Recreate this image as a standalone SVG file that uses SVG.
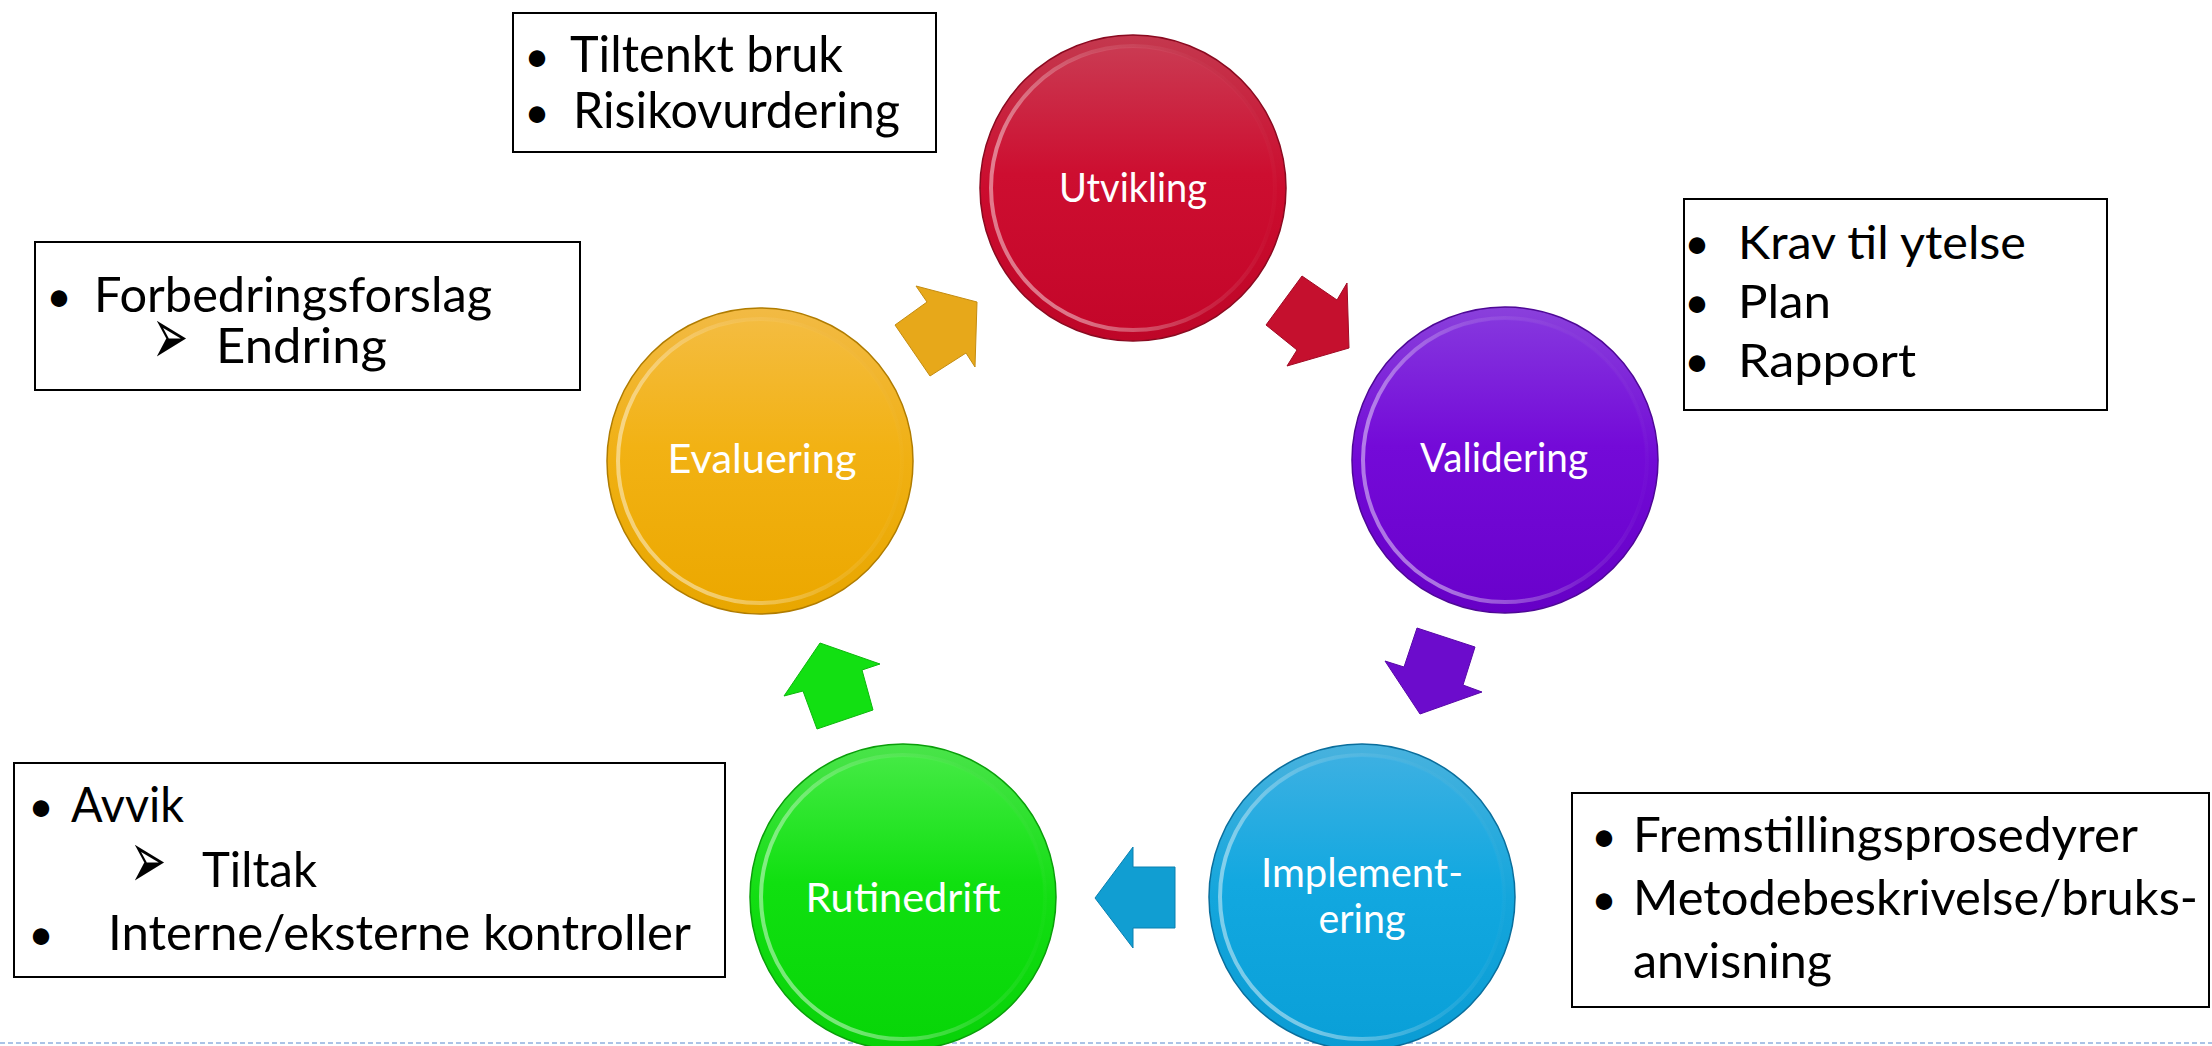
<svg xmlns="http://www.w3.org/2000/svg" width="2212" height="1046" viewBox="0 0 2212 1046">
<style>
.lbl{font-family:Lato,"Liberation Sans",sans-serif;font-size:40px;fill:#ffffff;text-anchor:middle}
.bx{fill:#ffffff;stroke:#000000;stroke-width:2}
.bt{font-family:Lato,"Liberation Sans",sans-serif;font-size:49px;fill:#000000}
.bul{font-family:Lato,"Liberation Sans",sans-serif;font-size:44px;fill:#000000;text-anchor:middle}
.arr{font-family:"DejaVu Sans",sans-serif;font-size:54px;fill:#000000}
.hl{fill:none;stroke:url(#hl);stroke-width:4}
</style>
<defs>
<linearGradient id="hl" x1="0" y1="0.3" x2="0.7" y2="0">
<stop offset="0" stop-color="#ffffff" stop-opacity="0.45"/>
<stop offset="0.6" stop-color="#ffffff" stop-opacity="0.12"/>
<stop offset="1" stop-color="#ffffff" stop-opacity="0.02"/>
</linearGradient>
<linearGradient id="gRed" x1="0" y1="0" x2="0" y2="1"><stop offset="0" stop-color="#c4384e"/><stop offset="0.5" stop-color="#cc0c2e"/><stop offset="1" stop-color="#be0628"/></linearGradient>
<linearGradient id="gRedIn" x1="0" y1="0" x2="0" y2="1"><stop offset="0" stop-color="#ca3a52"/><stop offset="0.45" stop-color="#cd0e30"/><stop offset="1" stop-color="#c4062a"/></linearGradient>
<linearGradient id="gPur" x1="0" y1="0" x2="0" y2="1"><stop offset="0" stop-color="#8a40dc"/><stop offset="0.5" stop-color="#720ad6"/><stop offset="1" stop-color="#6600c6"/></linearGradient>
<linearGradient id="gPurIn" x1="0" y1="0" x2="0" y2="1"><stop offset="0" stop-color="#8536de"/><stop offset="0.45" stop-color="#740ad8"/><stop offset="1" stop-color="#6a02cc"/></linearGradient>
<linearGradient id="gBlu" x1="0" y1="0" x2="0" y2="1"><stop offset="0" stop-color="#48b2de"/><stop offset="0.5" stop-color="#14a6dc"/><stop offset="1" stop-color="#0a9cd4"/></linearGradient>
<linearGradient id="gBluIn" x1="0" y1="0" x2="0" y2="1"><stop offset="0" stop-color="#3cb0e2"/><stop offset="0.45" stop-color="#12a8e0"/><stop offset="1" stop-color="#0aa0d8"/></linearGradient>
<linearGradient id="gGrn" x1="0" y1="0" x2="0" y2="1"><stop offset="0" stop-color="#4ae44a"/><stop offset="0.5" stop-color="#12de12"/><stop offset="1" stop-color="#08d208"/></linearGradient>
<linearGradient id="gGrnIn" x1="0" y1="0" x2="0" y2="1"><stop offset="0" stop-color="#44ea44"/><stop offset="0.45" stop-color="#10e010"/><stop offset="1" stop-color="#08d608"/></linearGradient>
<linearGradient id="gOrg" x1="0" y1="0" x2="0" y2="1"><stop offset="0" stop-color="#f2ba44"/><stop offset="0.5" stop-color="#f0b012"/><stop offset="1" stop-color="#e8a600"/></linearGradient>
<linearGradient id="gOrgIn" x1="0" y1="0" x2="0" y2="1"><stop offset="0" stop-color="#f4bc40"/><stop offset="0.45" stop-color="#f2b214"/><stop offset="1" stop-color="#eca800"/></linearGradient>
</defs>
<rect x="0" y="0" width="2212" height="1046" fill="#ffffff"/>
<line x1="0" y1="1043" x2="2212" y2="1043" stroke="#8fb0de" stroke-width="1.5" stroke-dasharray="5,3"/>

<g id="connectors">
<polygon points="1302,276 1337,300 1347,283 1349,348 1287,366 1297,350 1266,325" fill="#c5102e" stroke="#a00a24" stroke-width="1"/>
<polygon points="1417,628 1475,647 1463,685 1482,692 1420,714 1385,661 1404,667" fill="#6c0ccc" stroke="#5808a8" stroke-width="1"/>
<polygon points="1095,898 1133,847 1133,867 1175,867 1175,928 1133,928 1133,948" fill="#119ed2" stroke="#0a80b0" stroke-width="1"/>
<polygon points="820,643 880,664 862,670 873,710 817,729 803,691 784,696" fill="#12e012" stroke="#0cb80c" stroke-width="1"/>
<polygon points="977,302 975,367 966,353 930,376 895,325 927,302 916,286" fill="#e7a81a" stroke="#c48c10" stroke-width="1"/>
</g>

<g id="node-utvikling">
<circle cx="1133" cy="188" r="153" fill="url(#gRed)" stroke="#8a0a20" stroke-width="1.5"/>
<circle cx="1133" cy="188" r="141" fill="url(#gRedIn)"/>
<circle cx="1133" cy="188" r="142" class="hl"/>
<text class="lbl" x="1133" y="202" textLength="148" lengthAdjust="spacingAndGlyphs">Utvikling</text>
</g>
<g id="node-validering">
<circle cx="1505" cy="460" r="153" fill="url(#gPur)" stroke="#4e0896" stroke-width="1.5"/>
<circle cx="1505" cy="460" r="141" fill="url(#gPurIn)"/>
<circle cx="1505" cy="460" r="142" class="hl"/>
<text class="lbl" x="1504" y="472" textLength="168" lengthAdjust="spacingAndGlyphs">Validering</text>
</g>
<g id="node-implementering">
<circle cx="1362" cy="897" r="153" fill="url(#gBlu)" stroke="#0a6e9c" stroke-width="1.5"/>
<circle cx="1362" cy="897" r="141" fill="url(#gBluIn)"/>
<circle cx="1362" cy="897" r="142" class="hl"/>
<text class="lbl" x="1362" y="887" textLength="202" lengthAdjust="spacingAndGlyphs">Implement-</text>
<text class="lbl" x="1362" y="933" textLength="87" lengthAdjust="spacingAndGlyphs">ering</text>
</g>
<g id="node-rutinedrift">
<circle cx="903" cy="897" r="153" fill="url(#gGrn)" stroke="#0a9e0a" stroke-width="1.5"/>
<circle cx="903" cy="897" r="141" fill="url(#gGrnIn)"/>
<circle cx="903" cy="897" r="142" class="hl"/>
<text class="lbl" x="903" y="912" textLength="195" lengthAdjust="spacingAndGlyphs">Rutinedrift</text>
</g>
<g id="node-evaluering">
<circle cx="760" cy="461" r="153" fill="url(#gOrg)" stroke="#b07c00" stroke-width="1.5"/>
<circle cx="760" cy="461" r="141" fill="url(#gOrgIn)"/>
<circle cx="760" cy="461" r="142" class="hl"/>
<text class="lbl" x="762" y="473" textLength="189" lengthAdjust="spacingAndGlyphs">Evaluering</text>
</g>

<g id="box-utvikling">
<rect class="bx" x="513" y="13" width="423" height="139"/>
<text class="bul" x="537" y="72">•</text>
<text class="bt" x="570" y="72" textLength="273" lengthAdjust="spacingAndGlyphs" style="font-size:50px">Tiltenkt bruk</text>
<text class="bul" x="537" y="128">•</text>
<text class="bt" x="573" y="128" textLength="327" lengthAdjust="spacingAndGlyphs" style="font-size:50px">Risikovurdering</text>
</g>
<g id="box-validering">
<rect class="bx" x="1684" y="199" width="423" height="211"/>
<text class="bul" x="1697" y="259">•</text>
<text class="bt" x="1738" y="259" textLength="288" lengthAdjust="spacingAndGlyphs" style="font-size:47px">Krav til ytelse</text>
<text class="bul" x="1697" y="318">•</text>
<text class="bt" x="1738" y="318" textLength="93" lengthAdjust="spacingAndGlyphs" style="font-size:47px">Plan</text>
<text class="bul" x="1697" y="377">•</text>
<text class="bt" x="1738" y="377" textLength="178" lengthAdjust="spacingAndGlyphs" style="font-size:47px">Rapport</text>
</g>
<g id="box-evaluering">
<rect class="bx" x="35" y="242" width="545" height="148"/>
<text class="bul" x="59" y="312">•</text>
<text class="bt" x="94" y="312" textLength="398" lengthAdjust="spacingAndGlyphs">Forbedringsforslag</text>
<text class="arr" transform="translate(152,364) scale(0.8,1.5)" x="0" y="0">➢</text>
<text class="bt" x="216" y="363" textLength="171" lengthAdjust="spacingAndGlyphs">Endring</text>
</g>
<g id="box-rutinedrift">
<rect class="bx" x="14" y="763" width="711" height="214"/>
<text class="bul" x="41" y="822">•</text>
<text class="bt" x="71" y="822" textLength="113" lengthAdjust="spacingAndGlyphs">Avvik</text>
<text class="arr" transform="translate(130,888) scale(0.8,1.5)" x="0" y="0">➢</text>
<text class="bt" x="202" y="887" textLength="115" lengthAdjust="spacingAndGlyphs">Tiltak</text>
<text class="bul" x="41" y="950">•</text>
<text class="bt" x="108" y="950" textLength="583" lengthAdjust="spacingAndGlyphs">Interne/eksterne kontroller</text>
</g>
<g id="box-implementering">
<rect class="bx" x="1572" y="793" width="637" height="214"/>
<text class="bul" x="1604" y="852">•</text>
<text class="bt" x="1633" y="852" textLength="505" lengthAdjust="spacingAndGlyphs">Fremstillingsprosedyrer</text>
<text class="bul" x="1604" y="915">•</text>
<text class="bt" x="1633" y="915" textLength="565" lengthAdjust="spacingAndGlyphs">Metodebeskrivelse/bruks-</text>
<text class="bt" x="1633" y="978" textLength="199" lengthAdjust="spacingAndGlyphs">anvisning</text>
</g>
</svg>
